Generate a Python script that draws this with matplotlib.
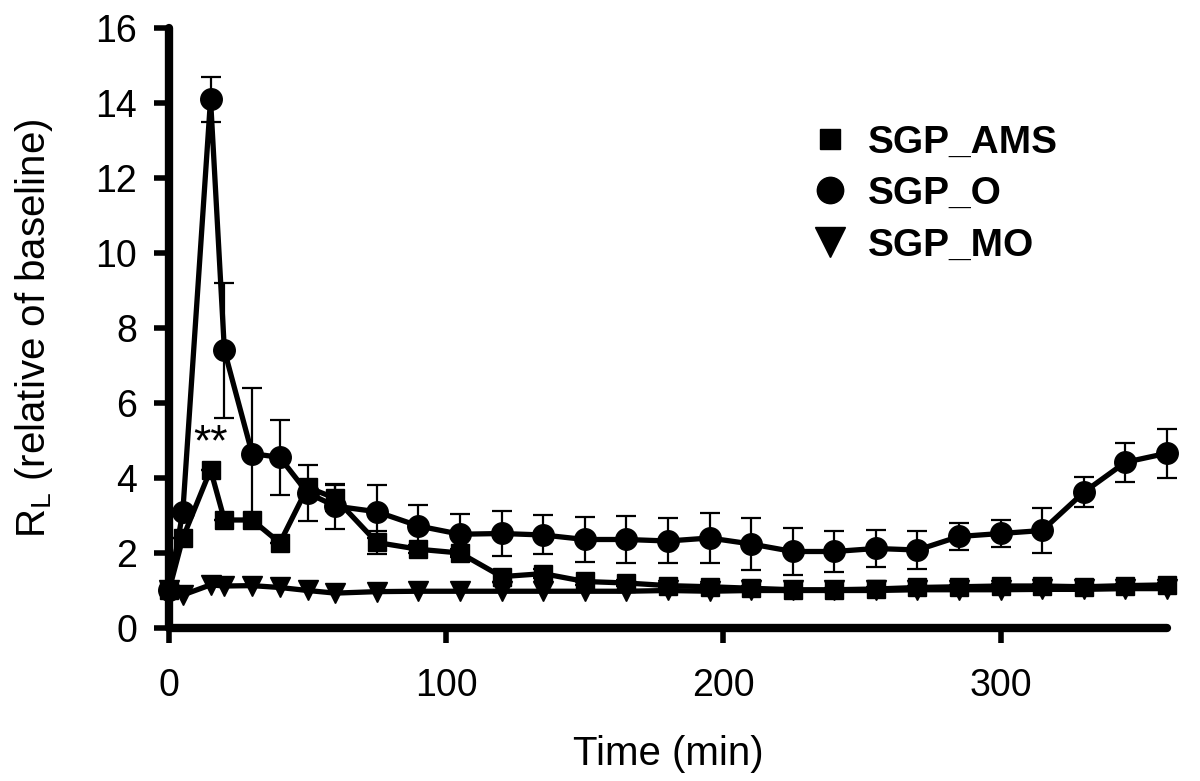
import numpy as np
import matplotlib
matplotlib.use("Agg")
import matplotlib.pyplot as plt
from matplotlib.lines import Line2D

plt.rcParams['font.family'] = ['Liberation Sans', 'DejaVu Sans']
plt.rcParams['mathtext.fontset'] = 'custom'
plt.rcParams['mathtext.rm'] = 'Liberation Sans'
plt.rcParams['mathtext.it'] = 'Liberation Sans'

# time points (min)
time = [0, 5, 15, 20, 30, 40, 50, 60, 75, 90, 105, 120, 135, 150, 165,
        180, 195, 210, 225, 240, 255, 270, 285, 300, 315, 330, 345, 360]

# SGP_O (circles)
sgp_o = [1.0, 3.1, 14.1, 7.4, 4.65, 4.55, 3.6, 3.25, 3.1, 2.72, 2.5, 2.52, 2.48, 2.36,
         2.36, 2.32, 2.4, 2.24, 2.04, 2.04, 2.12, 2.08, 2.44, 2.52, 2.6, 3.62, 4.42, 4.66]
sgp_o_err = [0, 0, 0.6, 1.8, 1.75, 1.0, 0.75, 0.6, 0.7, 0.57, 0.55, 0.6, 0.52, 0.6,
             0.62, 0.6, 0.67, 0.7, 0.62, 0.55, 0.5, 0.5, 0.36, 0.37, 0.6, 0.4, 0.52, 0.65]

# SGP_AMS (squares)
sgp_ams = [1.0, 2.4, 4.22, 2.88, 2.88, 2.27, 3.75, 3.46, 2.28, 2.1, 2.0, 1.37, 1.45, 1.24,
           1.2, 1.13, 1.1, 1.06, 1.02, 1.02, 1.04, 1.08, 1.1, 1.12, 1.12, 1.1, 1.13, 1.15]
sgp_ams_err = [0, 0, 0, 0, 0, 0, 0.2, 0.35, 0.3, 0.1, 0.1, 0.15, 0.12, 0.1,
               0.08, 0.06, 0.06, 0.05, 0.05, 0.05, 0.05, 0.05, 0.05, 0.05, 0.05, 0.05, 0.05, 0.05]

# SGP_MO (triangles)
sgp_mo = [1.0, 0.88, 1.15, 1.12, 1.13, 1.08, 1.0, 0.93, 0.97, 0.98, 0.98, 0.98, 0.98, 0.98,
          0.98, 1.0, 0.98, 1.0, 1.0, 1.0, 1.0, 1.02, 1.02, 1.02, 1.03, 1.03, 1.05, 1.05]

fig = plt.figure(figsize=(12, 7.81), dpi=100)
ax = fig.add_axes([0.1408, 0.1959, 0.8317, 0.7683])

def series(y, err, marker, ms):
    eb = ax.errorbar(time, y, yerr=err, fmt='-', marker=marker, ms=ms, color='black',
                     lw=3.8, elinewidth=1.6, capsize=7, capthick=1.6)
    for a in eb.get_children():
        a.set_clip_on(False)

series(sgp_mo, None, 'v', 14)
series(sgp_o, sgp_o_err, 'o', 15.5)
series(sgp_ams, sgp_ams_err, 's', 13.5)

ax.text(15, 4.6, '**', ha='center', va='baseline', fontsize=32)

ax.set_xlim(0, 360)
ax.set_ylim(0, 16)
ax.set_xticks([0, 100, 200, 300])
ax.set_yticks(np.arange(0, 17, 2))

for s in ['top', 'right']:
    ax.spines[s].set_visible(False)
for s in ['left', 'bottom']:
    ax.spines[s].set_linewidth(6)
    ax.spines[s].set_capstyle('round')

ax.tick_params(axis='y', direction='out', length=11, width=4, labelsize=27, pad=12)
ax.tick_params(axis='x', direction='out', length=11, width=4, labelsize=27, pad=18)

ax.set_xlabel('Time (min)', fontsize=29, labelpad=22)
ax.set_ylabel(r'R$_\mathrm{L}$ (relative of baseline)', fontsize=29, labelpad=29)

handles = [Line2D([], [], marker='s', ms=15, color='black', ls='none'),
           Line2D([], [], marker='o', ms=19, color='black', ls='none'),
           Line2D([], [], marker='v', ms=22, color='black', ls='none')]
labels = ['SGP_AMS', 'SGP_O', 'SGP_MO']
fig.legend(handles, labels, loc='upper left', bbox_to_anchor=(791 / 1200, 1 - 105 / 781),
           frameon=False, borderpad=0, handlelength=1.0, handletextpad=0.48,
           labelspacing=0.4, prop={'size': 28, 'weight': 'bold'})

fig.savefig('out.png', dpi=100)
